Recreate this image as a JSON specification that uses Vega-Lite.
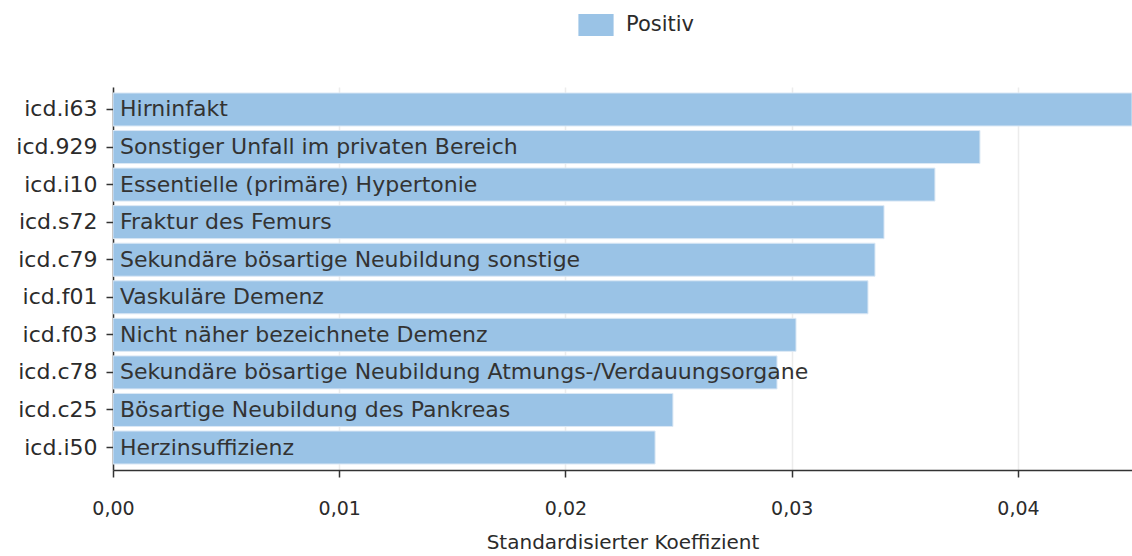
{
  "$schema": "https://vega.github.io/schema/vega-lite/v6.json",
  "width": 1019,
  "height": 383,
  "autosize": {"type": "none"},
  "padding": {"left": 113, "top": 87, "right": 0, "bottom": 86},
  "background": "white",
  "config": {
    "view": {"stroke": null},
    "font": "DejaVu Sans",
    "text": {"font": "DejaVu Sans"}
  },
  "data": {
    "values": [
      {"code": "icd.i63", "label": "Hirninfakt", "value": 0.04504, "sign": "Positiv"},
      {"code": "icd.929", "label": "Sonstiger Unfall im privaten Bereich", "value": 0.03832, "sign": "Positiv"},
      {"code": "icd.i10", "label": "Essentielle (primäre) Hypertonie", "value": 0.03633, "sign": "Positiv"},
      {"code": "icd.s72", "label": "Fraktur des Femurs", "value": 0.03408, "sign": "Positiv"},
      {"code": "icd.c79", "label": "Sekundäre bösartige Neubildung sonstige", "value": 0.03368, "sign": "Positiv"},
      {"code": "icd.f01", "label": "Vaskuläre Demenz", "value": 0.03337, "sign": "Positiv"},
      {"code": "icd.f03", "label": "Nicht näher bezeichnete Demenz", "value": 0.03019, "sign": "Positiv"},
      {"code": "icd.c78", "label": "Sekundäre bösartige Neubildung Atmungs-/Verdauungsorgane", "value": 0.02935, "sign": "Positiv"},
      {"code": "icd.c25", "label": "Bösartige Neubildung des Pankreas", "value": 0.02475, "sign": "Positiv"},
      {"code": "icd.i50", "label": "Herzinsuffizienz", "value": 0.02396, "sign": "Positiv"}
    ]
  },
  "encoding": {
    "y": {
      "field": "code",
      "type": "nominal",
      "sort": {"field": "value", "order": "descending"},
      "scale": {"paddingInner": 0.121, "paddingOuter": 0.159},
      "axis": {
        "title": null,
        "labelFontSize": 22,
        "labelColor": "#2b2b2b",
        "labelPadding": 9,
        "tickSize": 7,
        "tickColor": "#333333",
        "domainColor": "#333333",
        "tickWidth": 1.5,
        "domainWidth": 1.5
      }
    }
  },
  "layer": [
    {
      "mark": {"type": "bar", "clip": true, "stroke": "#dbe8f5", "strokeWidth": 1},
      "encoding": {
        "x": {
          "field": "value",
          "type": "quantitative",
          "scale": {"domain": [0, 0.04504], "nice": false, "zero": true},
          "axis": {
            "title": "Standardisierter Koeffizient",
            "titleFontSize": 20,
            "titleFontWeight": "normal",
            "titleColor": "#2b2b2b",
            "titlePadding": 14,
            "values": [0, 0.01, 0.02, 0.03, 0.04],
            "labelExpr": "replace(format(datum.value, '.2f'), '.', ',')",
            "labelFlush": false,
            "labelFontSize": 19,
            "labelColor": "#2b2b2b",
            "labelPadding": 22,
            "tickSize": 7,
            "tickColor": "#333333",
            "tickWidth": 1.5,
            "domainColor": "#333333",
            "domainWidth": 1.5,
            "grid": true,
            "gridColor": "#ececec",
            "gridWidth": 1.5
          }
        },
        "color": {
          "field": "sign",
          "type": "nominal",
          "scale": {"domain": ["Positiv"], "range": ["#9ac3e6"]},
          "legend": {
            "title": null,
            "orient": "none",
            "legendX": 472,
            "legendY": -73,
            "symbolType": "M-1.6,-1H1.6V1H-1.6Z",
            "symbolSize": 484,
            "symbolStrokeWidth": 0,
            "symbolOpacity": 1,
            "labelFontSize": 21,
            "labelColor": "#2b2b2b",
            "labelOffset": 19
          }
        }
      }
    },
    {
      "mark": {"type": "text", "align": "left", "baseline": "middle", "dx": 7, "fontSize": 22, "color": "#333333"},
      "encoding": {
        "x": {"datum": 0, "type": "quantitative"},
        "text": {"field": "label"}
      }
    }
  ]
}
